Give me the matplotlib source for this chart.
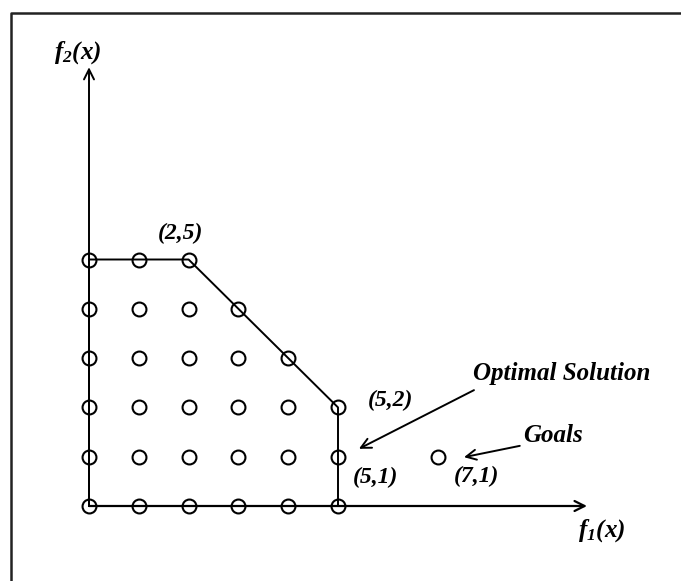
import matplotlib.pyplot as plt
from matplotlib.lines import Line2D

plt.rcParams['font.family'] = 'Liberation Serif'
plt.rcParams['mathtext.fontset'] = 'custom'
plt.rcParams['mathtext.it'] = 'Liberation Serif:italic:bold'
plt.rcParams['mathtext.rm'] = 'Liberation Serif:italic:bold'
plt.rcParams['mathtext.bf'] = 'Liberation Serif:italic:bold'

# Feasible integer points (f1, f2)
feasible_f1 = [0, 1, 2,
               0, 1, 2, 3,
               0, 1, 2, 3, 4,
               0, 1, 2, 3, 4, 5,
               0, 1, 2, 3, 4, 5,
               0, 1, 2, 3, 4, 5]
feasible_f2 = [5, 5, 5,
               4, 4, 4, 4,
               3, 3, 3, 3, 3,
               2, 2, 2, 2, 2, 2,
               1, 1, 1, 1, 1, 1,
               0, 0, 0, 0, 0, 0]

# Boundary of the feasible region
boundary_f1 = [0, 0, 2, 5, 5]
boundary_f2 = [0, 5, 5, 2, 0]

# Goal point
goal_f1 = [7]
goal_f2 = [1]

# Labelled points: (point, label, offset in points)
point_labels = [((2, 5), "(2,5)", (-6, 19)),
                ((5, 2), "(5,2)", (38, 5)),
                ((5, 1), "(5,1)", (27, -15)),
                ((7, 1), "(7,1)", (28, -14))]

fig = plt.figure(figsize=(6.81, 5.81), dpi=100)
ax = fig.add_axes([0, 0, 1, 1])
ax.set_xlim(-89 / 49.8, (681 - 89) / 49.8)
ax.set_ylim(-75 / 49.3, (581 - 75) / 49.3)
ax.axis('off')

# outer frame (only top and left visible)
fig.add_artist(Line2D([11 / 681, 11 / 681, 1.0], [0.0, 568 / 581, 568 / 581],
                      transform=fig.transFigure, color='#222222', lw=1.8))

# axes arrows
ax.annotate('', xy=(10.0, 0), xytext=(0, 0),
            arrowprops=dict(arrowstyle='->', lw=1.6, color='black',
                            mutation_scale=18, shrinkA=0, shrinkB=0))
ax.annotate('', xy=(0, 8.9), xytext=(0, 0),
            arrowprops=dict(arrowstyle='->', lw=1.4, color='black',
                            mutation_scale=18, shrinkA=0, shrinkB=0))

ax.plot(boundary_f1, boundary_f2, color='black', lw=1.4)

ax.plot(feasible_f1, feasible_f2, linestyle='None', marker='o', markersize=10,
        markerfacecolor='none', markeredgecolor='black', markeredgewidth=1.5)
ax.plot(goal_f1, goal_f2, linestyle='None', marker='o', markersize=10,
        markerfacecolor='none', markeredgecolor='black', markeredgewidth=1.5)

for (px, py), txt, off in point_labels:
    ax.annotate(txt, xy=(px, py), xytext=off, textcoords='offset points',
                ha='center', va='center', fontsize=17, fontstyle='italic',
                fontweight='bold')

ax.text(-0.22, 9.2, r'$f_2(x)$', fontsize=18, ha='center', va='center')
ax.text(10.3, -0.5, r'$f_1(x)$', fontsize=18, ha='center', va='center')

ax.text(9.5, 2.68, 'Optimal Solution', fontsize=18, fontstyle='italic',
        fontweight='bold', ha='center', va='center')
ax.annotate('', xy=(5.42, 1.16), xytext=(7.73, 2.35),
            arrowprops=dict(arrowstyle='->', lw=1.4, color='black',
                            mutation_scale=18, shrinkA=0, shrinkB=0))

ax.text(9.32, 1.42, 'Goals', fontsize=18, fontstyle='italic',
        fontweight='bold', ha='center', va='center')
ax.annotate('', xy=(7.53, 0.99), xytext=(8.65, 1.22),
            arrowprops=dict(arrowstyle='->', lw=1.4, color='black',
                            mutation_scale=18, shrinkA=0, shrinkB=0))

fig.savefig('out.png', dpi=100, facecolor='white')
